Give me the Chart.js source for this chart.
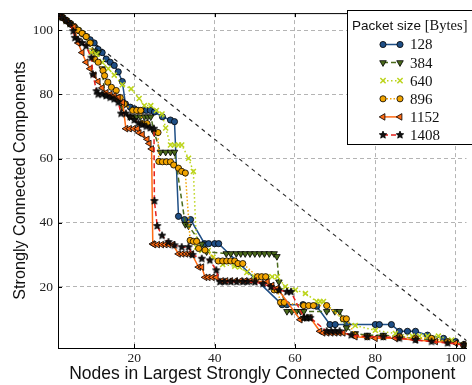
<!DOCTYPE html>
<html>
<head>
<meta charset="utf-8">
<script src="https://cdn.jsdelivr.net/npm/chart.js@4.4.1/dist/chart.umd.min.js"></script>
<style>
  html, body { margin: 0; padding: 0; background: #fff; }
  #wrap { width: 472px; height: 385px; }
</style>
</head>
<body>
<div id="wrap"><canvas id="chart" width="472" height="385"></canvas></div>
<script>
// Data
const packetSizes = ['128', '384', '640', '896', '1152', '1408'];
const xTicks = [20, 40, 60, 80, 100];
const yTicks = [20, 40, 60, 80, 100];

const nodes128 = [1,2,3,4,5,6,7,8,9,10,11,12,13,14,15,16,17,17.8,19,20,21,22,23,24,25,27,29,30,31,32.5,34,37.5,38.5,40,41,56.8,58,62,65.4,68.7,70,73,80,81,84,86,88,90,93,97,100,102];
const scc128   = [105,104,103,102,101,100,99,98,97,96,94,93,91,90,89,87,84,77,76,75.5,75,75,75,75,74.5,73,72,71.5,42,41,41,33.5,33.5,33.5,33.5,14.5,14.5,14.5,14,8.3,8.3,8.3,8.3,8.3,8.3,6.2,6.2,6.2,5,4,3,2];

const nodes384 = [1,2,3,4,5,6,7,8,9,10,11,12,12.6,14,15,16,17,18.8,19.6,20.5,21.5,22.5,23.3,24.1,25,26.5,27.8,29,30,32.7,33.5,36.8,38,42.9,44,45.4,46.5,47.6,48.8,50,51.2,52.4,53.6,54.8,55.5,56,58,59.2,60.4,61.4,62.2,67.9,69.9,71.1,72.8,75,78,82,86,90,94,98,102];
const scc384   = [105,104,103,102,101,100,99,98,96,93.5,93,88,80,79.5,79,78,76,73,73,73,73,73,73,73,68,62,62,62,62,39.5,39,33.4,31,30.4,30.4,30.4,30.4,30.4,30.4,30.4,30.4,30.4,30.4,30.4,29.5,21.6,12.4,12.4,12.4,12.4,12.4,12.4,12.4,12.4,7.3,5.5,5,5,4.5,4,3.5,3,2];

const nodes640 = [1,2,3,4,5,6,7,8,9.3,10.6,12,13.5,15,17,19.2,21.2,22.5,24.1,25.5,26.9,27.8,29,30,31,31.8,33.5,34.7,35.5,36.8,38.4,39.6,42,45,46.2,48,49.9,51.5,53.1,54.3,55.6,57.6,60.1,62.6,65.4,66.2,67.1,72,75,80,85,89.2,91,93,95.7,99,102];
const scc640   = [105,104,103,102,101,100,99,98,93,92.5,90,88,86,83,81.7,78.7,76.5,76.5,75,73.9,69.5,64.2,64.2,64.2,64.2,60.1,56,32.4,31.4,31.4,29.3,27,26.5,26.2,24.5,23.2,23.2,23.2,23.2,23.2,20.1,19.1,18,15.5,15.5,15.5,9.8,8,6.5,5.5,4.7,4.7,4.7,4.7,3.5,2];

const nodes896 = [1,2,3,4,5,6,7,8,9,10.1,11,12.2,12.6,13.4,14.3,15.5,16.5,17.5,19.6,20.6,21.6,22,23.2,25.9,26.1,27,28,29,29.8,31,31.8,32.7,33.9,34.7,35.5,36,37.6,40.9,42,43,44,45,45.8,47,50.7,51.7,52.7,54.8,55.6,56.4,57.3,62.2,63.4,64.6,67.9,72,72.8,75,78,82,86,90,94,98,102];
const scc896   = [105,104,103,102,101,100,99,98,96,91,90,87.4,85.8,83.8,82.2,81.2,79,77,75,75,75,70.9,70.9,68.1,59.1,59,59,59,58,57,56,55.5,34.5,34.2,34.2,32,31.5,28.1,28.1,28.1,28.1,28.1,27.3,27.3,23.2,23.2,23.2,19.1,19.1,15.2,15.2,14.2,14.2,14.2,14.2,10.1,10.1,5,4.5,4.5,4.5,4,4,3,2];

const nodes1152 = [1,2,3,4,5,6,7,8,9,10,11,12,13,14,15,16,17.1,17.9,18.8,19.8,20.8,21.2,22,23.2,23.7,24.3,24.6,24.9,25.8,26.8,27.7,28.6,29.6,31,31.9,32.8,33.6,34.3,36,36.8,37.6,38.4,39.4,40.4,41.7,42.8,44,45.2,46.4,47.6,48.8,49.9,53.1,54.3,55.6,61.3,62,62.9,63.8,66.2,67,68,69,70,71,72,75,80,85,90,95,100,102];
const scc1152   = [105,104,103,102,101,96,93,90,88,86,84,82,80.5,80,79.5,79,77.5,69.3,69.3,69.3,69.3,68,67.5,66,64.7,63,33.4,33.2,33.2,33.2,33.2,33.2,33.2,30.3,30.3,30.3,30.3,30.3,26.2,26.2,23,23,23,23,21.9,21.9,21.9,21.9,21.9,21.9,21.9,21.9,21.6,20.5,19.6,9.8,10.4,10.4,10.4,6.2,5.7,5.7,5.7,5.7,5.7,5.7,4.5,4,4,3.5,3,2.5,2];

const nodes1408 = [1,2,3,4,4.8,5.2,6,7,8,9.3,9.7,10.6,11,12,13,14,15,16,16.7,17.9,19,20,21,22,23,24,24.9,25,25.7,26.9,28.5,30,31.8,33.5,34.5,36.8,38.8,40.4,41.3,42.5,44,45.5,47,48.2,50,52,54,56,58,59,62.2,63,63.8,67.9,69,70,71.1,74,78,82,86,90,94,98,102];
const scc1408   = [105,104,103,102,99.7,97.6,97,96,95,91.4,86.2,81,80,80,79.5,79,78.5,77.5,74,74,73,72,71,70.5,70,69.5,69.3,46.8,39,36,34,33,32.4,32.4,30,28.8,28.3,25.2,21.6,21.6,21.6,21.6,21.6,21.6,21.5,21,20,19,18.5,18.5,10.4,10.4,10.4,6.2,6.2,6.2,6.2,5,4.5,4.5,4,3.5,3,2.5,2];

// reference diagonal (ideal case)
const diagNodes = [1, 105];
const diagScc = [105, 1];

const seriesNodes = [nodes128, nodes384, nodes640, nodes896, nodes1152, nodes1408];
const seriesScc = [scc128, scc384, scc640, scc896, scc1152, scc1408];

// filled star marker for the 1408 series
function makeStar(r, fill, stroke) {
    const s = Math.ceil(r * 2 + 2);
    const c = document.createElement('canvas');
    c.width = s; c.height = s;
    const g = c.getContext('2d');
    g.beginPath();
    for (let i = 0; i < 10; i++) {
        const a = -Math.PI / 2 + i * Math.PI / 5;
        const rr = i % 2 ? r * 0.45 : r;
        g.lineTo(s / 2 + rr * Math.cos(a), s / 2 + rr * Math.sin(a));
    }
    g.closePath();
    g.fillStyle = fill;
    g.fill();
    g.lineWidth = 0.8;
    g.strokeStyle = stroke;
    g.stroke();
    return c;
}

const styles = [
    { color: '#1f4f86', fill: '#1f4f86', edge: '#000', dash: [], point: 'circle', radius: 3.1, rot: 0 },
    { color: '#4b6b1c', fill: '#4b6b1c', edge: '#000', dash: [5, 3], point: 'triangle', radius: 3.8, rot: 180 },
    { color: '#bcd41c', fill: '#bcd41c', edge: '#bcd41c', dash: [1.5, 2.5], point: 'crossRot', radius: 3.5, rot: 0 },
    { color: '#f2a400', fill: '#f2a400', edge: '#000', dash: [1.5, 2], point: 'circle', radius: 3.1, rot: 0 },
    { color: '#ff6a13', fill: '#ff6a13', edge: '#000', dash: [], point: 'triangle', radius: 3.8, rot: 270 },
    { color: '#e3211c', fill: '#111', edge: '#000', dash: [5, 3], point: makeStar(3.9, '#111', '#000'), radius: 3.9, rot: 0 }
];

const datasets = packetSizes.map((label, i) => {
    const st = styles[i];
    return {
        label: label,
        data: seriesNodes[i].map((x, k) => ({ x: x, y: seriesScc[i][k] })),
        showLine: true,
        borderColor: st.color,
        borderWidth: 1.5,
        borderDash: st.dash,
        pointStyle: st.point,
        pointRadius: st.radius,
        pointRotation: st.rot,
        pointBackgroundColor: st.fill,
        pointBorderColor: st.edge,
        pointBorderWidth: st.point === 'crossRot' ? 1.5 : 0.8,
        order: 6 - i
    };
});

datasets.push({
    label: 'diag',
    data: diagNodes.map((x, k) => ({ x: x, y: diagScc[k] })),
    showLine: true,
    borderColor: '#222',
    borderWidth: 1.1,
    borderDash: [4, 4],
    pointRadius: 0,
    order: 10
});

function drawMarker(ctx, st, x, y) {
    if (st.point instanceof HTMLCanvasElement) {
        ctx.drawImage(st.point, x - st.point.width / 2, y - st.point.height / 2);
        return;
    }
    const r = st.radius;
    ctx.save();
    ctx.translate(x, y);
    ctx.rotate(st.rot * Math.PI / 180);
    ctx.beginPath();
    if (st.point === 'circle') {
        ctx.arc(0, 0, r, 0, Math.PI * 2);
    } else if (st.point === 'triangle') {
        for (let k = 0; k < 3; k++) {
            const a = k * 2 * Math.PI / 3;
            ctx.lineTo(Math.sin(a) * r, -Math.cos(a) * r);
        }
        ctx.closePath();
    } else {
        const d = r * 0.75;
        ctx.moveTo(-d, -d); ctx.lineTo(d, d);
        ctx.moveTo(-d, d); ctx.lineTo(d, -d);
    }
    if (st.point !== 'crossRot') {
        ctx.fillStyle = st.fill;
        ctx.fill();
        ctx.lineWidth = 0.8;
    } else {
        ctx.lineWidth = 1.5;
    }
    ctx.strokeStyle = st.edge;
    ctx.stroke();
    ctx.restore();
}

// frame on top + inward ticks + legend box
const framePlugin = {
    id: 'frame',
    afterDraw(chart) {
        const ctx = chart.ctx;
        const a = chart.chartArea;
        const xs = chart.scales.x, ys = chart.scales.y;
        ctx.save();
        ctx.strokeStyle = '#000';
        ctx.lineWidth = 1;
        ctx.beginPath();
        ctx.moveTo(a.left, a.top + 0.5);
        ctx.lineTo(a.right, a.top + 0.5);
        xTicks.forEach(v => {
            const px = Math.round(xs.getPixelForValue(v)) + 0.5;
            ctx.moveTo(px, a.bottom); ctx.lineTo(px, a.bottom - 4);
            ctx.moveTo(px, a.top); ctx.lineTo(px, a.top + 4);
        });
        yTicks.forEach(v => {
            const py = Math.round(ys.getPixelForValue(v)) + 0.5;
            ctx.moveTo(a.left, py); ctx.lineTo(a.left + 4, py);
        });
        ctx.stroke();

        // legend
        const x0 = 347.5, y0 = 10.5, w = 130, h = 134;
        ctx.fillStyle = '#fff';
        ctx.fillRect(x0, y0, w, h);
        ctx.strokeRect(x0, y0, w, h);
        ctx.fillStyle = '#111';
        ctx.textBaseline = 'alphabetic';
        ctx.textAlign = 'left';
        ctx.font = '13.5px "Liberation Sans", Arial, sans-serif';
        const t1 = 'Packet size ';
        ctx.fillText(t1, 352, 30);
        const tw = ctx.measureText(t1).width;
        ctx.font = '14.5px "Liberation Serif", serif';
        ctx.fillText('[Bytes]', 352 + tw, 30);

        ctx.font = '15px "Liberation Serif", serif';
        ctx.textBaseline = 'middle';
        packetSizes.forEach((label, i) => {
            const st = styles[i];
            const yy = 44.5 + i * 18.1;
            ctx.save();
            ctx.strokeStyle = st.color;
            ctx.lineWidth = 1.5;
            ctx.setLineDash(st.dash);
            ctx.beginPath();
            ctx.moveTo(383, yy); ctx.lineTo(400, yy);
            ctx.stroke();
            ctx.restore();
            drawMarker(ctx, st, 383, yy);
            drawMarker(ctx, st, 400, yy);
            ctx.fillStyle = '#111';
            ctx.fillText(label, 410, yy + 1);
        });
        ctx.restore();
    }
};

const tickFont = { family: '"Liberation Serif", serif', size: 13.5 };
const gridStyle = { color: '#b4b4b4', lineWidth: 1, drawTicks: false };

new Chart(document.getElementById('chart'), {
    type: 'scatter',
    data: { datasets: datasets },
    options: {
        responsive: false,
        animation: false,
        layout: { padding: { top: 9, right: 0, bottom: 0, left: 7 } },
        plugins: { legend: { display: false }, tooltip: { enabled: false } },
        scales: {
            x: {
                type: 'linear',
                min: 1,
                max: 102.7,
                afterBuildTicks: s => { s.ticks = xTicks.map(v => ({ value: v })); },
                afterFit: s => { s.height = 37; },
                grid: gridStyle,
                border: { color: '#000', width: 1, dash: [4, 3] },
                ticks: { font: tickFont, color: '#222', padding: 2, maxRotation: 0 },
                title: {
                    display: true,
                    text: 'Nodes in Largest Strongly Connected Component',
                    font: { family: '"Liberation Sans", Arial, sans-serif', size: 17.5 },
                    color: '#111',
                    padding: 0
                }
            },
            y: {
                type: 'linear',
                min: 1,
                max: 105.3,
                afterBuildTicks: s => { s.ticks = yTicks.map(v => ({ value: v })); },
                afterFit: s => { s.width = 51; },
                grid: gridStyle,
                border: { color: '#000', width: 1, dash: [4, 3] },
                ticks: { font: tickFont, color: '#222', padding: 5 },
                title: {
                    display: true,
                    text: 'Strongly Connected Components',
                    font: { family: '"Liberation Sans", Arial, sans-serif', size: 16.2 },
                    color: '#111',
                    padding: { top: 4, bottom: 0 }
                }
            }
        }
    },
    plugins: [framePlugin]
});
</script>
</body>
</html>
